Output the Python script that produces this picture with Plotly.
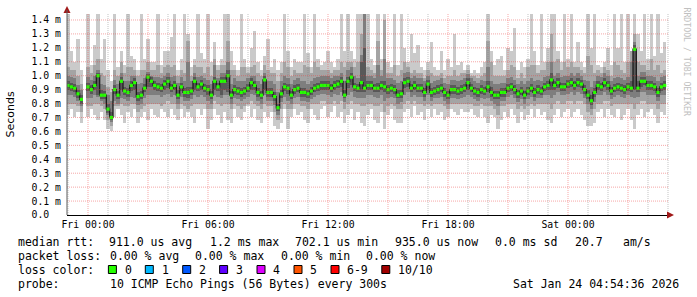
import plotly.graph_objects as go
import pandas as pd

# ---------------- data (hundredths of a millisecond, 10-minute steps) ----------------
START = "2026-01-22 23:00"
STEP_MIN = 10

MED = [93, 92, 91, 87, 83, None, 92, 90, 93, 100,
       86, 86, 76, 70, 90, 86, 96, 89, 88, 93,
       95, 85, 86, 91, 99, 96, 93, 92, 91, 94,
       96, 91, 93, 86, 92, 88, 88, 89, 96, 92,
       94, 91, 90, 86, 96, 92, 96, 96, 100, 86,
       90, 89, 88, 89, 91, 95, 93, 88, 86, 97,
       88, 88, 85, 77, 87, 92, 91, 86, 90, 91,
       88, 88, 87, 89, 91, 92, 93, 93, 93, 91,
       93, 94, 96, 86, 96, 99, 92, 91, 95, 91,
       93, 93, 91, 91, 93, 92, 90, 91, 90, 86,
       87, 95, 96, 91, 93, 91, 91, 88, 94, 88,
       89, 90, 91, 88, 86, 90, 90, 89, 90, 91,
       95, 91, 89, 88, 90, 89, 92, 88, 86, 86,
       88, 88, 91, 92, 90, 87, 89, 86, 89, 91,
       88, 90, 89, 92, 93, 97, 93, 95, 92, 92,
       94, 95, 93, 95, 94, 90, 86, 82, 88, 93,
       92, 95, 93, 89, 91, 92, 91, 90, 92, 91,
       119, 91, 96, 96, 93, 93, 92, 88, 92, 93]

P_MIN = [72, 76, 70, 74, 66, None, 70, 76, 72, 68,
         74, 68, 62, 60, 70, 76, 72, 66, 74, 70,
         76, 66, 70, 74, 68, 76, 72, 70, 76, 74,
         70, 76, 72, 68, 76, 70, 74, 70, 66, 76,
         72, 76, 62, 68, 76, 72, 66, 74, 68, 66,
         76, 70, 68, 74, 78, 70, 76, 68, 66, 74,
         70, 74, 64, 62, 66, 76, 62, 70, 76, 72,
         74, 68, 66, 76, 72, 68, 76, 78, 70, 74,
         78, 70, 74, 66, 72, 76, 68, 74, 66, 64,
         72, 76, 68, 66, 74, 62, 72, 76, 68, 66,
         66, 74, 76, 70, 78, 72, 74, 68, 76, 70,
         76, 72, 74, 68, 70, 76, 74, 72, 76, 74,
         74, 76, 72, 70, 76, 70, 66, 72, 70, 62,
         68, 74, 70, 76, 72, 66, 74, 68, 72, 76,
         70, 76, 72, 74, 68, 66, 72, 76, 70, 74,
         76, 70, 74, 76, 72, 68, 64, 64, 66, 74,
         76, 70, 76, 72, 70, 76, 68, 72, 76, 68,
         62, 72, 76, 70, 74, 76, 72, 66, 74, 72]

P2 = [80, 80, 80, 78, 74, None, 78, 78, 80, 80,
      78, 76, 68, 64, 78, 78, 80, 78, 78, 80,
      80, 74, 76, 78, 80, 80, 80, 80, 78, 80,
      82, 80, 80, 76, 80, 78, 76, 78, 80, 80,
      80, 80, 76, 76, 82, 80, 78, 80, 80, 76,
      80, 78, 76, 78, 80, 82, 80, 78, 76, 80,
      78, 78, 74, 68, 76, 80, 76, 76, 80, 80,
      78, 78, 76, 80, 80, 80, 82, 82, 80, 80,
      82, 80, 82, 76, 80, 82, 80, 80, 78, 78,
      80, 80, 78, 78, 80, 74, 78, 80, 78, 76,
      76, 80, 82, 80, 82, 80, 80, 78, 80, 78,
      80, 80, 80, 78, 76, 80, 80, 80, 80, 80,
      80, 80, 78, 78, 80, 78, 78, 78, 76, 72,
      78, 78, 80, 80, 80, 76, 78, 76, 78, 80,
      78, 80, 80, 80, 80, 76, 80, 82, 80, 80,
      82, 82, 80, 82, 82, 80, 74, 72, 76, 80,
      80, 82, 82, 78, 80, 80, 80, 80, 80, 80,
      76, 80, 82, 82, 80, 80, 80, 76, 80, 80]

P3 = [86, 86, 85, 82, 78, None, 84, 84, 86, 85,
      82, 80, 72, 67, 82, 80, 84, 83, 82, 85,
      84, 79, 80, 84, 86, 86, 86, 86, 85, 86,
      87, 85, 86, 80, 85, 82, 82, 83, 86, 85,
      86, 85, 82, 80, 86, 85, 84, 86, 86, 80,
      84, 83, 82, 83, 85, 87, 86, 82, 80, 86,
      82, 82, 79, 72, 81, 85, 82, 80, 84, 85,
      82, 82, 81, 83, 85, 86, 87, 87, 86, 85,
      87, 86, 88, 81, 86, 88, 85, 84, 84, 84,
      86, 86, 85, 84, 86, 82, 84, 85, 84, 80,
      81, 86, 88, 85, 86, 85, 85, 82, 86, 82,
      84, 84, 85, 82, 80, 84, 84, 83, 84, 85,
      86, 85, 83, 82, 84, 83, 84, 82, 80, 78,
      82, 82, 85, 86, 84, 81, 83, 80, 83, 85,
      82, 84, 84, 86, 86, 84, 86, 88, 86, 86,
      87, 88, 86, 88, 87, 84, 80, 76, 81, 86,
      86, 88, 86, 83, 85, 86, 85, 84, 86, 85,
      84, 85, 88, 88, 86, 86, 86, 82, 86, 86]

P4 = [90, 89, 88, 84, 80, None, 89, 87, 90, 86,
      83, 83, 73, 68, 87, 83, 90, 86, 85, 89,
      90, 82, 83, 88, 92, 92, 90, 89, 88, 90,
      91, 88, 90, 83, 89, 85, 84, 86, 90, 89,
      90, 88, 86, 83, 90, 89, 86, 90, 88, 83,
      87, 86, 85, 86, 88, 90, 90, 85, 83, 90,
      85, 85, 82, 75, 84, 89, 87, 83, 87, 88,
      85, 85, 84, 86, 88, 89, 90, 90, 90, 88,
      90, 91, 92, 84, 91, 93, 89, 88, 88, 88,
      90, 90, 88, 88, 90, 88, 87, 88, 87, 84,
      84, 91, 92, 88, 90, 88, 88, 85, 90, 85,
      86, 87, 88, 85, 83, 87, 87, 86, 87, 88,
      90, 88, 86, 85, 87, 86, 88, 85, 83, 83,
      85, 85, 88, 89, 87, 84, 86, 83, 86, 88,
      85, 87, 86, 89, 90, 90, 90, 91, 89, 89,
      91, 92, 90, 92, 91, 87, 83, 79, 85, 90,
      89, 92, 90, 86, 88, 89, 88, 87, 89, 88,
      90, 88, 92, 93, 90, 90, 89, 85, 89, 90]

P7 = [96, 95, 94, 90, 86, None, 95, 93, 96, 102,
      90, 89, 80, 74, 93, 89, 99, 92, 91, 96,
      98, 88, 89, 94, 101, 99, 96, 95, 94, 97,
      99, 94, 96, 90, 95, 91, 92, 92, 99, 95,
      97, 94, 93, 89, 99, 95, 99, 99, 104, 89,
      93, 92, 91, 92, 94, 98, 96, 91, 89, 100,
      91, 91, 88, 80, 90, 95, 94, 89, 93, 94,
      91, 91, 90, 92, 94, 95, 96, 96, 96, 94,
      96, 97, 99, 90, 99, 102, 95, 94, 110, 120,
      96, 96, 94, 95, 96, 96, 93, 94, 93, 90,
      90, 98, 99, 94, 96, 94, 94, 91, 97, 91,
      92, 93, 94, 91, 89, 93, 93, 92, 93, 94,
      98, 94, 92, 91, 93, 92, 96, 92, 89, 89,
      91, 91, 94, 95, 93, 90, 92, 89, 92, 94,
      91, 93, 92, 95, 96, 102, 96, 98, 95, 95,
      97, 98, 96, 98, 97, 93, 90, 86, 91, 96,
      95, 98, 96, 92, 94, 95, 94, 93, 95, 96,
      122, 96, 99, 99, 96, 96, 95, 91, 95, 96]

P8 = [100, 99, 98, 93, 90, None, 99, 97, 100, 104,
      94, 93, 86, 82, 97, 94, 102, 96, 96, 100,
      100, 94, 95, 98, 103, 100, 99, 99, 98, 100,
      102, 99, 100, 95, 99, 96, 110, 96, 102, 99,
      100, 98, 97, 94, 108, 98, 102, 102, 110, 94,
      98, 96, 96, 96, 98, 100, 100, 96, 94, 102,
      96, 96, 94, 88, 96, 100, 98, 94, 97, 98,
      96, 96, 94, 96, 98, 99, 100, 100, 100, 98,
      100, 100, 102, 96, 104, 106, 100, 98, 115, 144,
      100, 100, 98, 108, 100, 112, 98, 98, 97, 95,
      96, 102, 103, 98, 100, 98, 98, 96, 100, 95,
      96, 97, 98, 95, 94, 97, 97, 96, 97, 98,
      101, 98, 96, 95, 97, 96, 106, 96, 94, 94,
      95, 95, 98, 99, 97, 94, 96, 94, 96, 98,
      96, 97, 96, 99, 100, 110, 100, 102, 99, 100,
      100, 102, 100, 102, 100, 97, 96, 92, 96, 100,
      99, 102, 100, 96, 98, 99, 98, 97, 99, 110,
      124, 100, 103, 103, 100, 100, 99, 96, 99, 100]

P9 = [106, 104, 104, 100, 94, None, 106, 102, 108, 112,
      102, 100, 92, 88, 104, 100, 110, 102, 106, 106,
      104, 100, 104, 104, 110, 104, 104, 108, 102, 106,
      108, 106, 108, 100, 104, 102, 125, 100, 108, 106,
      106, 102, 106, 100, 112, 104, 108, 108, 125, 104,
      104, 100, 106, 106, 102, 106, 108, 102, 100, 108,
      104, 102, 102, 96, 102, 110, 106, 100, 104, 102,
      102, 108, 106, 102, 110, 106, 104, 104, 104, 102,
      104, 104, 110, 106, 110, 110, 106, 110, 130, 144,
      106, 104, 102, 125, 104, 140, 102, 102, 108, 100,
      104, 110, 106, 102, 104, 102, 102, 98, 104, 102,
      100, 100, 102, 98, 100, 100, 104, 100, 102, 102,
      104, 100, 100, 98, 100, 102, 125, 110, 100, 100,
      100, 100, 104, 108, 106, 98, 102, 98, 106, 108,
      108, 102, 104, 104, 110, 130, 110, 112, 104, 110,
      106, 110, 106, 106, 104, 102, 114, 108, 102, 104,
      102, 106, 104, 100, 110, 108, 104, 102, 110, 118,
      130, 110, 108, 108, 104, 112, 104, 108, 102, 104]

P_MAX = [144, 118, 110, 126, 104, None, 144, 108, 122, 144,
         112, 126, 104, 96, 144, 106, 118, 108, 144, 114,
         112, 104, 144, 112, 126, 110, 110, 144, 108, 118,
         118, 128, 144, 104, 112, 144, 130, 106, 112, 144,
         116, 112, 144, 110, 124, 108, 112, 144, 144, 118,
         108, 104, 144, 112, 106, 120, 132, 110, 104, 114,
         126, 106, 112, 104, 110, 144, 118, 106, 112, 110,
         110, 144, 116, 106, 144, 112, 108, 110, 118, 110,
         106, 112, 144, 118, 144, 118, 112, 144, 144, 144,
         144, 112, 108, 144, 112, 144, 110, 106, 144, 108,
         144, 120, 110, 130, 116, 122, 106, 104, 110, 124,
         106, 104, 118, 104, 112, 106, 130, 108, 110, 104,
         108, 102, 104, 102, 106, 110, 144, 118, 108, 112,
         114, 104, 120, 118, 134, 104, 110, 106, 112, 144,
         118, 108, 144, 110, 120, 144, 144, 118, 110, 144,
         112, 144, 110, 124, 110, 106, 144, 120, 144, 108,
         106, 110, 120, 108, 144, 120, 144, 110, 144, 118,
         144, 130, 118, 144, 112, 144, 114, 144, 116, 124]

Y_TICKS = [0.0, 0.1, 0.2, 0.3, 0.4, 0.5, 0.6, 0.7, 0.8, 0.9, 1.0, 1.1, 1.2, 1.3, 1.4]
Y_LABELS = ["0.0\u00a0\u00a0"] + [f"{v:.1f} m" for v in Y_TICKS[1:]]
X_TICKS = ["2026-01-23 00:00", "2026-01-23 06:00", "2026-01-23 12:00",
           "2026-01-23 18:00", "2026-01-24 00:00"]
X_LABELS = ["Fri 00:00", "Fri 06:00", "Fri 12:00", "Fri 18:00", "Sat 00:00"]
X_RANGE = ["2026-01-22 22:57:00", "2026-01-24 05:03:00"]

LOSS_NAMES = ["0", "1", "2", "3", "4", "5", "6-9", "10/10"]
LOSS_COLORS = ["#26ff00", "#00b8ff", "#0059ff", "#5e00ff", "#dd00ff", "#ff5500", "#ff0000", "#a10000"]

# ---------------- figure ----------------
W, H = 697, 297
L, R, T, B = 67, 28, 14, 82
PW, PH = W - L - R, H - T - B

times = pd.date_range(START, periods=len(MED), freq=f"{STEP_MIN}min")


def ms(v):
    return None if v is None else v / 100.0


fig = go.Figure()
bands = [(P_MIN, P_MAX, "#cacaca"), (P2, P9, "#a4a4a4"), (P3, P8, "#7e7e7e"), (P4, P7, "#585858")]
for lo, hi, col in bands:
    base = [ms(a) for a in lo]
    hgt = [None if (a is None or b is None) else (b - a) / 100.0 for a, b in zip(lo, hi)]
    fig.add_trace(go.Bar(x=times, y=hgt, base=base, width=STEP_MIN * 60000 * 1.06,
                         marker=dict(color=col, line=dict(width=0)),
                         hoverinfo="skip", showlegend=False))

med = [ms(v) for v in MED]
fig.add_trace(go.Scatter(x=times, y=med, mode="lines", connectgaps=False,
                         line=dict(color="#1e1e1e", width=1.3, shape="hvh"),
                         hoverinfo="skip", showlegend=False))
fig.add_trace(go.Scatter(x=times, y=med, mode="markers",
                         marker=dict(symbol="square", size=3.2, color=LOSS_COLORS[0], line=dict(width=0)),
                         hoverinfo="skip", showlegend=False))

# grid drawn above the data, as rrdtool does
shapes = []
for v in Y_TICKS[1:]:
    shapes.append(dict(type="line", xref="x domain", yref="y", x0=0, x1=1, y0=v, y1=v,
                       line=dict(color="rgba(235,60,60,0.45)", width=1, dash="1px,1px"), layer="above"))
for t in pd.date_range("2026-01-22 23:00", "2026-01-24 05:00", freq="1h"):
    major = t.hour % 3 == 0
    shapes.append(dict(type="line", xref="x", yref="y domain", x0=t, x1=t, y0=0, y1=1,
                       line=dict(color="rgba(235,60,60,0.45)" if major else "rgba(120,120,120,0.45)",
                                 width=1, dash="1px,1px"), layer="above"))


def px(xp):
    return (xp - L) / PW


def py(yp):
    return (H - B - yp) / PH


# arrows
shapes.append(dict(type="path", xref="paper", yref="paper", layer="above",
                   path=f"M {px(67)},{py(6)} L {px(63.5)},{py(13)} L {px(70.5)},{py(13)} Z",
                   fillcolor="#a01818", line=dict(width=0)))
shapes.append(dict(type="path", xref="paper", yref="paper", layer="above",
                   path=f"M {px(674)},{py(215)} L {px(667)},{py(211.5)} L {px(667)},{py(218.5)} Z",
                   fillcolor="#a01818", line=dict(width=0)))
# y axis line up to the arrow
shapes.append(dict(type="line", xref="paper", yref="paper", layer="above",
                   x0=px(67), x1=px(67), y0=py(215), y1=py(10), line=dict(color="#5a5a5a", width=1)))

# legend boxes
box_x = [108.4, 145.3, 182.7, 219.6, 257, 294, 331, 381.8]
for bx, col in zip(box_x, LOSS_COLORS):
    shapes.append(dict(type="rect", xref="paper", yref="paper", layer="above",
                       x0=px(bx), x1=px(bx + 8), y0=py(265.5), y1=py(273.5),
                       fillcolor=col, line=dict(color="#000000", width=1)))

MONO = "DejaVu Sans Mono"
ann = []


def txt(s, x, y, anchor="left", size=11.5, color="#000000", angle=0, family=MONO):
    ann.append(dict(text=s.replace(" ", "\u00a0"), x=px(x), y=py(y), xref="paper", yref="paper",
                    xanchor=anchor, yanchor="middle", showarrow=False, textangle=angle,
                    font=dict(family=family, size=size, color=color)))


line1 = [("median rtt:", 16), ("911.0 us avg", 107), ("1.2 ms max", 208), ("702.1 us min", 293),
         ("935.0 us now", 393.3), ("0.0 ms sd", 492.7), ("20.7", 572.7), ("am/s", 620.7)]
for s, x in line1:
    txt(s, x, 241.5)
line2 = [("packet loss:", 16), ("0.00 % avg", 107.5), ("0.00 % max", 193), ("0.00 % min", 279),
         ("0.00 % now", 364)]
for s, x in line2:
    txt(s, x, 255.5)
txt("loss color:", 16, 269.5)
lab_x = [123, 160, 197, 234, 271, 308, 345, 395.6]
for s, x in zip(LOSS_NAMES, lab_x):
    txt(s, x, 269.5)
txt("probe:", 16, 283.5)
txt("10 ICMP Echo Pings (56 Bytes) every 300s", 107.5, 283.5)
txt("Sat Jan 24 04:54:36 2026", 681, 283.5, anchor="right")

ann.append(dict(text="Seconds", x=px(10), y=py(114.5), xref="paper", yref="paper",
                xanchor="center", yanchor="middle", showarrow=False, textangle=-90,
                font=dict(family="DejaVu Sans", size=11, color="#000000")))
ann.append(dict(text="RRDTOOL / TOBI OETIKER", x=px(687), y=py(5), xref="paper", yref="paper",
                xanchor="center", yanchor="top", showarrow=False, textangle=90,
                font=dict(family=MONO, size=8.2, color="#c0c0c0")))

fig.update_layout(
    width=W, height=H, margin=dict(l=L, r=R, t=T, b=B, pad=0),
    paper_bgcolor="#ffffff", plot_bgcolor="#ffffff",
    barmode="overlay", bargap=0, showlegend=False,
    shapes=shapes, annotations=ann,
    xaxis=dict(type="date", range=X_RANGE, tickvals=X_TICKS, ticktext=X_LABELS,
               showgrid=False, zeroline=False, showline=True, linecolor="#000000", linewidth=1,
               ticks="", tickfont=dict(family=MONO, size=9.8, color="#000000")),
    yaxis=dict(range=[0, 1.443], tickvals=Y_TICKS, ticktext=Y_LABELS,
               showgrid=False, zeroline=False, showline=False,
               ticks="", ticklabelstandoff=5, tickfont=dict(family=MONO, size=9.8, color="#000000")),
)

fig.write_html("out.html")
